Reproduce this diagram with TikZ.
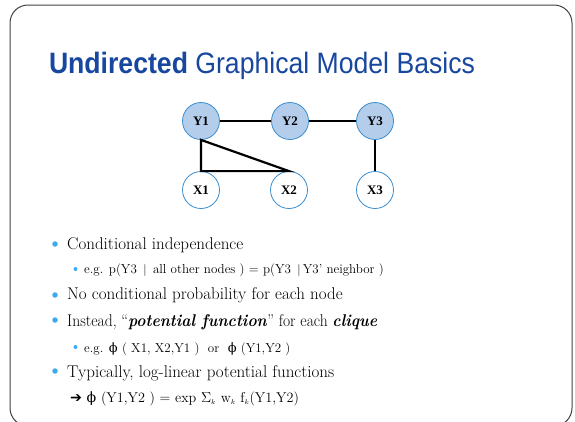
\documentclass[tikz,border=0pt]{standalone}
\usepackage{fontspec}
\newfontfamily\titlefont{Liberation Sans}
\newfontfamily\nodefont{Liberation Serif}
\newfontfamily\dejavu{DejaVu Sans}
\newfontfamily\phifont{DejaVu Serif}
\newcommand{\myphi}{{\phifont ϕ}}
\definecolor{titleblue}{HTML}{17479E}
\definecolor{nodefill}{HTML}{B4CDEB}
\definecolor{nodeline}{HTML}{3A8ECF}
\definecolor{bulletblue}{HTML}{3CAAF0}
\definecolor{framegray}{HTML}{404040}
\tikzset{
  ynode/.style={circle, draw=nodeline, fill=nodefill, line width=0.8pt, minimum size=37pt, inner sep=0pt, font=\nodefont\bfseries\fontsize{13}{13}\selectfont},
  xnode/.style={circle, draw=nodeline, fill=white, line width=0.8pt, minimum size=37pt, inner sep=0pt, font=\nodefont\bfseries\fontsize{13}{13}\selectfont},
  edge/.style={line width=2.2pt, black},
  bigtext/.style={anchor=base west, inner sep=0pt, font=\fontsize{17}{20}\selectfont},
  smalltext/.style={anchor=base west, inner sep=0pt, font=\fontsize{13}{15}\selectfont},
  bigbullet/.style={circle, fill=bulletblue, inner sep=0pt, minimum size=5.5pt},
  smallbullet/.style={circle, fill=bulletblue, inner sep=0pt, minimum size=4pt},
}
\begin{document}
\begin{tikzpicture}[x=1pt,y=-1pt]
\useasboundingbox (0,0) rectangle (575,421);
\begin{scope}
\clip (0,0) rectangle (575,421);
\draw[framegray, line width=1pt, rounded corners=18pt] (10,5) rectangle (572,426);
\end{scope}
% title
\node[anchor=base, inner sep=0pt, text=titleblue, font=\titlefont\fontsize{29.5}{30}\selectfont] (title) at (262,73)
  {\resizebox{426pt}{\height}{\textbf{Undirected} Graphical Model Basics}};
% graph
\node[ynode] (Y1) at (201,121) {Y1};
\node[ynode] (Y2) at (290,121) {Y2};
\node[ynode] (Y3) at (375,121) {Y3};
\node[xnode] (X1) at (201,190) {X1};
\node[xnode] (X2) at (289,190) {X2};
\node[xnode] (X3) at (375,190) {X3};
\draw[edge] (Y1) -- (Y2);
\draw[edge] (Y2) -- (Y3);
\draw[edge, line join=miter] (Y1.south) -- (X1.north) -- (X2.north) -- cycle;
\draw[edge] (Y3) -- (X3);
% bullets
\node[bigbullet] (b1) at (55,244) {};
\node[bigtext] (t1) at (67,249) {Conditional independence};
\node[smallbullet] (b2) at (75.5,269) {};
\node[smalltext] (t2) at (84,273) {e.g. p(Y3 \,$|$\, all other nodes ) = p(Y3 \,$|$\,Y3' neighbor )};
\node[bigbullet] (b3) at (55,295) {};
\node[bigtext] (t3) at (67,299) {No conditional probability for each node};
\node[bigbullet] (b4) at (55,320) {};
\node[bigtext] (t4) at (67,326) {\resizebox{310pt}{\height}{Instead, ``\textbf{\textit{potential function}}'' for each \textbf{\textit{clique}}}};
\node[smallbullet] (b5) at (75.5,347) {};
\node[smalltext] (t5) at (84,352) {e.g. \myphi\ ( X1, X2,Y1 ) \ or \ \myphi\ (Y1,Y2 )};
\node[bigbullet] (b6) at (55,371) {};
\node[bigtext] (t6) at (67,377) {Typically, log-linear potential functions};
\node[smalltext, font=\fontsize{14.2}{17}\selectfont] (t7) at (70,402) {{\dejavu\bfseries ➔}\ \myphi\ (Y1,Y2 ) = exp $\Sigma_{\scriptscriptstyle k}$ w$_{\scriptscriptstyle k}$ f$_{\scriptscriptstyle k}$(Y1,Y2)};
\end{tikzpicture}
\end{document}
